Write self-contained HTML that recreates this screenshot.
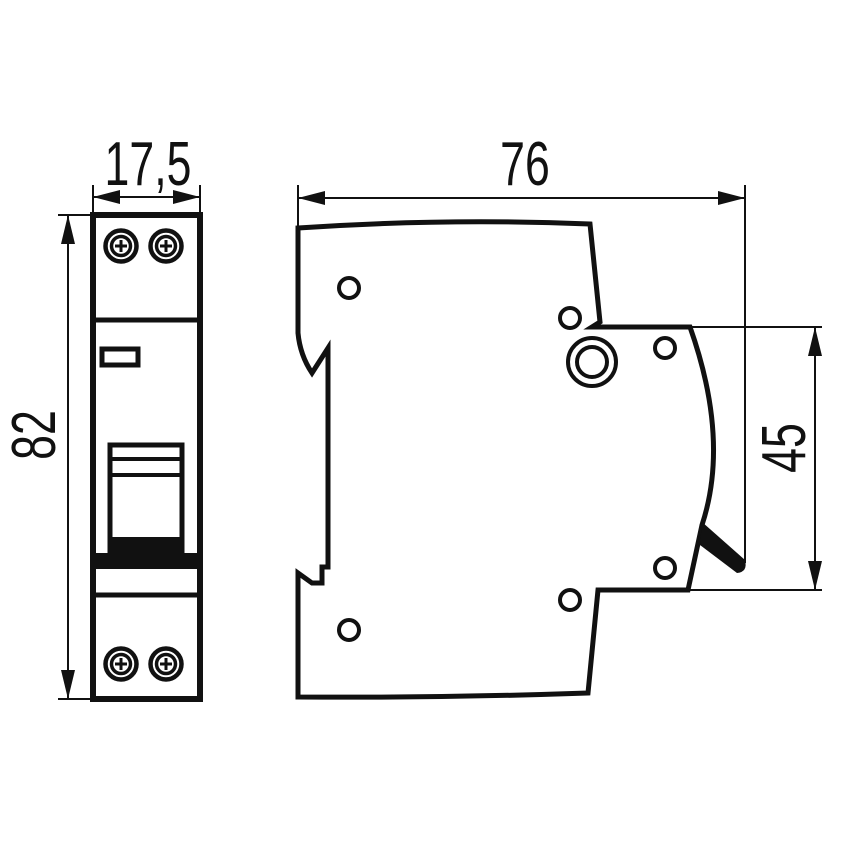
<!DOCTYPE html>
<html><head><style>
html,body{margin:0;padding:0;background:#fff;}
svg{display:block;}
text{font-family:"Liberation Sans",sans-serif;font-size:62px;fill:#111;}
</style></head><body>
<svg width="842" height="842" viewBox="0 0 842 842" xmlns="http://www.w3.org/2000/svg">
<defs>
<g id="screw">
<circle r="15.5" fill="none" stroke="#111" stroke-width="4.5"/>
<circle r="9.5" fill="none" stroke="#111" stroke-width="3.5"/>
<line x1="-6" y1="0" x2="6" y2="0" stroke="#111" stroke-width="3"/>
<line x1="0" y1="-6" x2="0" y2="6" stroke="#111" stroke-width="3"/>
</g>
</defs>
<g stroke="#111" fill="none">
<rect x="93" y="215" width="107" height="484" stroke-width="6"/>
<line x1="93" y1="320" x2="200" y2="320" stroke-width="5"/>
<line x1="93" y1="595" x2="200" y2="595" stroke-width="5"/>
<rect x="102" y="349" width="36" height="16" stroke-width="5"/>
<rect x="110" y="445" width="72" height="110" stroke-width="5"/>
<line x1="110" y1="459" x2="182" y2="459" stroke-width="4"/>
<line x1="110" y1="475" x2="182" y2="475" stroke-width="4"/>
</g>
<rect x="110" y="537" width="72" height="18" fill="#111"/>
<rect x="93" y="553" width="107" height="16" fill="#111"/>
<use href="#screw" x="121" y="246"/>
<use href="#screw" x="166" y="246"/>
<use href="#screw" x="121" y="664"/>
<use href="#screw" x="166" y="664"/>
<g stroke="#111" stroke-width="2">
<line x1="93" y1="185" x2="93" y2="215"/>
<line x1="200" y1="185" x2="200" y2="215"/>
<line x1="93" y1="197" x2="200" y2="197"/>
<line x1="58" y1="215" x2="93" y2="215"/>
<line x1="58" y1="699" x2="93" y2="699"/>
<line x1="68" y1="215" x2="68" y2="699"/>
</g>
<g fill="#111">
<polygon points="93,197 120,190 120,204"/>
<polygon points="200,197 173,190 173,204"/>
<polygon points="68,215 61,244 75,244"/>
<polygon points="68,699 61,670 75,670"/>
</g>
<text x="148" y="185" text-anchor="middle" transform="translate(148 0) scale(0.72 1) translate(-148 0)">17,5</text>
<text transform="translate(55 435) rotate(-90) scale(0.72 1)" text-anchor="middle">82</text>
<path d="M298,228 Q445,218 590,224 L600,322 L592,327 L690,327 Q730,440 702,525 L688,590 L598,590 L588,693 Q445,698 298,697 L298,573 L312,583 L322,583 L322,567 L328,567 L328,348 L312,373 Q300,355 298,333 Z" fill="none" stroke="#111" stroke-width="5" stroke-linejoin="miter"/>
<path d="M702,522 L745,560 Q748,572 737,573 L700,545 Z" fill="#111"/>
<g fill="none" stroke="#111" stroke-width="4">
<circle cx="349" cy="288" r="10"/>
<circle cx="349" cy="630" r="10"/>
<circle cx="570" cy="318" r="10"/>
<circle cx="570" cy="600" r="10"/>
<circle cx="665" cy="348" r="10"/>
<circle cx="665" cy="568" r="10"/>
<circle cx="592" cy="362" r="24"/>
<circle cx="592" cy="362" r="15"/>
</g>
<g stroke="#111" stroke-width="2">
<line x1="298" y1="185" x2="298" y2="228"/>
<line x1="745" y1="185" x2="745" y2="563"/>
<line x1="298" y1="198" x2="745" y2="198"/>
<line x1="690" y1="327" x2="822" y2="327"/>
<line x1="688" y1="590" x2="822" y2="590"/>
<line x1="815" y1="327" x2="815" y2="590"/>
</g>
<g fill="#111">
<polygon points="298,198 325,191 325,205"/>
<polygon points="745,198 718,191 718,205"/>
<polygon points="815,327 808,356 822,356"/>
<polygon points="815,590 808,561 822,561"/>
</g>
<text x="525" y="185" text-anchor="middle" transform="translate(525 0) scale(0.72 1) translate(-525 0)">76</text>
<text transform="translate(805 448) rotate(-90) scale(0.72 1)" text-anchor="middle">45</text>
</svg>
</body></html>
